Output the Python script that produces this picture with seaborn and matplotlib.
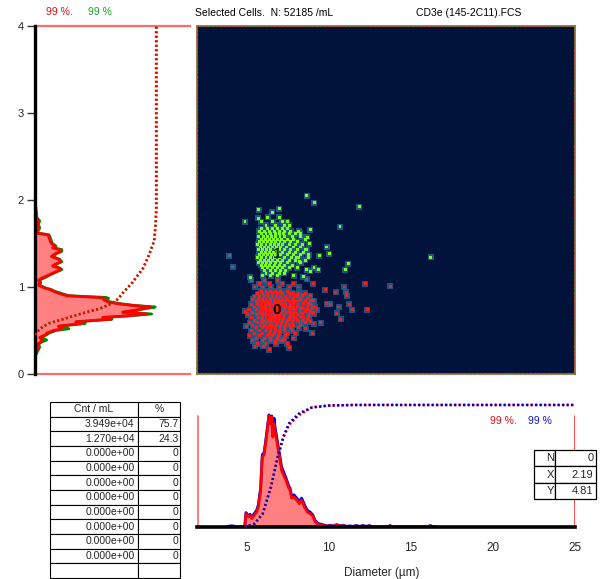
import numpy as np
import pandas as pd
import matplotlib
matplotlib.use("Agg")
import matplotlib.pyplot as plt
import seaborn as sns
from matplotlib.patches import Rectangle

sns.set_style("white")
plt.rcParams["font.family"] = ["Liberation Sans", "DejaVu Sans"]

# ---------------- data ----------------
# left (vertical) histogram : y position (0..4) vs count
LEFT_Y = [0.20, 0.24, 0.28, 0.31, 0.34, 0.37, 0.39, 0.42, 0.45, 0.47, 0.50, 0.52, 0.55, 0.58, 0.60,
          0.63, 0.65, 0.67, 0.69, 0.71, 0.73, 0.75, 0.77, 0.79, 0.81, 0.83, 0.85, 0.87, 0.88, 0.90,
          0.92, 0.93, 0.95, 0.97, 0.99, 1.02, 1.05, 1.08, 1.11, 1.14, 1.17, 1.20, 1.22, 1.24, 1.26,
          1.29, 1.32, 1.35, 1.38, 1.41, 1.43, 1.45, 1.47, 1.50, 1.53, 1.57, 1.60, 1.62, 1.65, 1.68,
          1.72, 1.76, 1.80, 1.83, 1.88, 1.94, 1.98, 2.05]
LEFT_RED = [0, 1, 2, 3, 2, 5, 6, 4, 9, 10, 16, 23, 20, 39, 35,
            64, 58, 80, 96, 75, 84, 92, 99, 82, 70, 62, 59, 60, 53, 27,
            22, 20, 16, 13, 8, 3, 4, 3, 7, 12, 17, 22, 20, 15, 17,
            22, 20, 14, 17, 22, 21, 15, 17, 14, 13, 12, 11, 1.5, 2, 3,
            2, 3, 1, 1, 0.5, 0.5, 0, 0]
LEFT_GREEN = [0, 1.5, 3, 4, 3, 6, 10, 5, 10, 12, 18, 29, 22, 43, 37,
              66, 60, 82, 100, 77, 86, 94, 103, 84, 72, 64, 61, 63, 61, 29,
              24, 22, 17, 14, 9, 4, 5, 4, 9, 13, 18, 23, 21, 16, 18,
              23, 21, 15, 18, 23, 23, 16, 18, 15, 14, 13, 12, 2, 3, 4,
              3, 4, 1.5, 1.5, 1, 0.5, 0, 0]
# left cumulative (percent)
LEFT_CUM_Y = [0.45, 0.52, 0.58, 0.63, 0.69, 0.75, 0.81, 0.86, 0.96, 1.05, 1.22, 1.38, 1.53, 1.72, 1.91, 4.0]
LEFT_CUM = [0, 4, 11, 23, 37, 53, 63, 68, 74, 80, 89, 94, 98, 99, 100, 100]

# bottom histogram : diameter (um) vs count
BOT_X = [3.8, 4.0, 4.1, 4.2, 4.4, 4.9, 4.98, 5.12, 5.23, 5.33, 5.43, 5.63, 5.73, 5.87, 5.97,
         6.08, 6.20, 6.30, 6.38, 6.46, 6.55, 6.61, 6.69, 6.77, 6.85, 6.95, 7.05, 7.15, 7.26,
         7.42, 7.56, 7.66, 7.76, 7.90, 8.07, 8.23, 8.37, 8.57, 8.72, 8.88, 9.04, 9.18, 9.39,
         9.69, 9.9, 10.1, 10.3, 10.5, 10.7, 10.9, 11.1, 11.3, 11.5, 11.7, 11.9, 12.1, 12.3,
         12.5, 12.7, 13.6, 13.75, 13.9, 16.0, 16.2, 16.4, 16.6]
BOT_RED = [0, 0, 0, 0, 0, 0, 12, 9, 10.5, 7.5, 9.6, 13.5, 18, 33, 63,
           65, 78, 90, 100, 93, 99, 81, 93, 84, 78, 69, 60, 51, 47,
           42, 36, 33, 26, 27, 24, 21, 24, 17, 13.5, 12, 10, 5, 2,
           1.5, 0.5, 1.2, 0.5, 1.8, 0.5, 1.2, 0.3, 0.6, 0.3, 1, 0.3, 1, 0.3,
           1, 0, 0, 1, 0, 0, 1, 0, 0]
BOT_BLUE = [0, 1, 1, 1, 0, 0, 13, 10, 11.5, 9, 11, 15, 20, 35, 65,
            67, 80, 92, 101, 95, 100, 84, 98, 88, 81, 72, 63, 54, 50,
            44, 38, 35, 28, 29, 26, 23, 26, 19, 15, 13.5, 11, 6, 3,
            2, 1, 1.6, 1, 2.2, 1, 1.6, 0.6, 1, 0.6, 1.3, 0.6, 1.3, 0.6,
            1.3, 0, 0, 1.3, 0, 0, 1.3, 0, 0]
# bottom cumulative (percent)
BOT_CUM_X = [4.9, 5.0, 5.5, 6.0, 6.25, 6.5, 6.9, 7.25, 7.6, 8.2, 9.0, 10.0, 11.6, 25.0]
BOT_CUM = [0, 0.5, 2.7, 11, 22, 33, 57, 74, 85, 93, 98, 99.5, 100, 100]

# scatter : population 0 (red)
RED_X = [5.9, 6.2, 6.5, 6.8, 7.1, 7.5,
         5.7, 6.0, 6.3, 6.6, 6.9, 7.2, 7.6, 7.9,
         5.5, 5.8, 6.1, 6.35, 6.6, 6.85, 7.1, 7.4, 7.7, 8.1,
         5.4, 5.75, 6.0, 6.2, 6.45, 6.7, 6.95, 7.2, 7.5, 7.8, 8.3,
         5.6, 5.9, 6.1, 6.3, 6.5, 6.7, 6.9, 7.1, 7.35, 7.6, 8.0, 8.6,
         5.3, 5.7, 5.95, 6.15, 6.35, 6.55, 6.75, 6.95, 7.15, 7.4, 7.7, 8.2, 8.9,
         5.5, 5.85, 6.05, 6.25, 6.45, 6.65, 6.85, 7.05, 7.25, 7.5, 7.9, 8.4, 9.2,
         5.2, 5.6, 5.9, 6.1, 6.3, 6.5, 6.7, 6.9, 7.1, 7.3, 7.6, 8.0, 8.7, 9.3,
         5.4, 5.8, 6.0, 6.2, 6.4, 6.6, 6.8, 7.0, 7.2, 7.45, 7.8, 8.3, 9.0,
         5.1, 5.6, 5.9, 6.1, 6.3, 6.5, 6.7, 6.9, 7.1, 7.35, 7.7, 8.1, 8.8,
         5.3, 5.75, 6.0, 6.2, 6.4, 6.6, 6.8, 7.0, 7.25, 7.6, 8.0, 8.5,
         5.5, 5.9, 6.1, 6.35, 6.55, 6.75, 6.95, 7.2, 7.5, 7.9, 8.4,
         5.2, 5.7, 6.0, 6.25, 6.5, 6.7, 6.9, 7.15, 7.45, 7.8, 8.6,
         5.4, 5.85, 6.1, 6.4, 6.6, 6.85, 7.1, 7.4, 7.9,
         5.6, 6.0, 6.3, 6.55, 6.8, 7.05, 7.35, 7.7, 8.2,
         5.3, 5.8, 6.2, 6.5, 6.75, 7.0, 7.3, 7.8,
         5.5, 6.0, 6.4, 6.7, 7.0, 7.5, 8.0,
         5.2, 5.8, 6.3, 6.6, 6.95, 7.4,
         5.6, 6.1, 6.5, 6.9, 7.3, 7.9,
         5.4, 6.0, 6.45, 7.1,
         5.7, 6.2, 6.8, 7.5,
         5.5, 6.0, 6.5, 7.0, 7.6, 8.2,
         5.8, 6.4, 7.2, 7.9,
         6.1, 6.9,
         7.8, 8.2, 8.6,
         8.0, 8.4, 8.9,
         7.9, 8.3, 8.7,
         7.8, 8.2, 8.9, 9.1,
         7.9, 8.5, 8.8,
         7.7, 8.1, 8.7, 9.0,
         7.8, 8.3, 8.5, 9.0,
         7.6, 8.0, 8.6, 8.9,
         7.9, 8.4, 9.1,
         7.8, 8.3, 8.8,
         7.7, 8.1, 8.7,
         8.2, 8.9,
         7.6, 8.3,
         6.45, 6.6, 6.75, 6.9, 7.05, 6.5, 6.65, 6.8, 6.95, 7.1, 6.4, 6.55, 6.7, 6.85, 7.0,
         12.23, 13.75, 10.95, 9.79, 10.44, 11.07, 11.11, 11.27, 11.46, 12.37, 10.62, 10.50, 10.74,
         9.53, 9.12, 9.0, 8.63, 7.62, 6.40, 6.04, 5.53, 6.79, 7.26, 9.89, 10.1, 9.08, 4.95, 5.0]
RED_Y = [0.95] * 6 + [0.92] * 8 + [0.89] * 10 + [0.86] * 11 + [0.83] * 12 + [0.80] * 13 \
    + [0.77] * 13 + [0.74] * 14 + [0.71] * 13 + [0.68] * 13 + [0.65] * 12 + [0.62] * 11 \
    + [0.59] * 11 + [0.56] * 9 + [0.53] * 9 + [0.50] * 8 + [0.47] * 7 + [0.44] * 6 \
    + [0.41] * 6 + [0.38] * 4 + [0.35] * 4 + [1.00] * 6 + [1.04] * 4 + [1.07] * 2 \
    + [0.93] * 3 + [0.90] * 3 + [0.87] * 3 + [0.84] * 4 + [0.81] * 3 + [0.78] * 4 \
    + [0.75] * 4 + [0.72] * 4 + [0.69] * 3 + [0.66] * 3 + [0.63] * 3 + [0.60] * 2 + [0.57] * 2 \
    + [0.785] * 5 + [0.725] * 5 + [0.665] * 5 \
    + [1.04, 1.01, 1.00, 0.97, 0.94, 0.94, 0.90, 0.80, 0.74, 0.74, 0.77, 0.70, 0.63,
       0.59, 0.58, 0.47, 0.52, 0.30, 0.28, 0.32, 0.32, 0.37, 0.39, 0.81, 0.80, 1.04, 0.72, 0.55]

# scatter : population 1 (green)
GREEN_X = [6.3, 7.0,
           5.9, 6.6, 7.2, 7.5,
           6.2, 6.8, 7.3, 7.6,
           5.9, 6.3, 6.6, 6.9, 7.2, 7.5,
           5.8, 6.1, 6.4, 6.7, 7.0, 7.3, 7.7, 8.2,
           5.9, 6.2, 6.5, 6.75, 7.0, 7.25, 7.6, 8.0,
           5.75, 6.05, 6.3, 6.55, 6.8, 7.05, 7.35, 7.8, 8.3,
           5.9, 6.15, 6.4, 6.65, 6.9, 7.15, 7.5, 7.9, 8.6,
           5.8, 6.05, 6.3, 6.55, 6.8, 7.05, 7.3, 7.7, 8.1,
           5.7, 5.95, 6.2, 6.45, 6.7, 6.95, 7.2, 7.6, 8.0, 8.4,
           5.85, 6.1, 6.35, 6.6, 6.85, 7.1, 7.45, 7.85, 8.3,
           5.75, 6.0, 6.25, 6.5, 6.75, 7.0, 7.3, 7.7, 8.1, 8.6,
           5.9, 6.15, 6.4, 6.65, 6.9, 7.2, 7.6, 8.0, 8.5,
           5.8, 6.05, 6.3, 6.55, 6.8, 7.1, 7.5, 7.9, 8.3, 8.8,
           5.7, 5.95, 6.2, 6.45, 6.7, 7.0, 7.35, 7.75, 8.2,
           5.85, 6.1, 6.35, 6.6, 6.9, 7.2, 7.6, 8.0, 8.6,
           5.75, 6.0, 6.25, 6.5, 6.8, 7.1, 7.5, 8.3,
           5.9, 6.15, 6.4, 6.7, 7.0, 7.3, 7.8,
           6.0, 6.3, 6.6, 6.9, 7.2, 7.6, 8.1,
           6.1, 6.45, 6.8, 7.1, 7.4,
           6.2, 6.6, 7.0, 7.3,
           6.0, 6.5, 6.9,
           8.68, 9.14, 11.88, 10.7, 9.89, 10.06, 11.21, 11.01, 16.22, 9.45, 9.39, 9.12, 8.88,
           8.68, 8.47, 7.90, 4.92, 5.77, 6.59, 7.01, 5.73, 5.23, 8.88, 8.72, 8.84, 8.68, 8.27,
           8.21, 8.03, 8.78]
GREEN_Y = [1.80] * 2 + [1.75] * 4 + [1.71] * 4 + [1.67] * 6 + [1.64] * 8 + [1.61] * 8 \
    + [1.58] * 9 + [1.55] * 9 + [1.52] * 9 + [1.49] * 10 + [1.46] * 9 + [1.43] * 10 \
    + [1.40] * 9 + [1.37] * 10 + [1.34] * 9 + [1.31] * 9 + [1.28] * 8 + [1.25] * 7 \
    + [1.22] * 7 + [1.19] * 5 + [1.16] * 4 + [1.13] * 3 \
    + [2.05, 1.97, 1.92, 1.69, 1.46, 1.38, 1.27, 1.20, 1.34, 1.36, 1.20, 1.22, 1.18,
       1.20, 1.12, 1.13, 1.75, 1.89, 1.86, 1.90, 1.79, 1.11, 1.66, 1.57, 1.50, 1.43, 1.62,
       1.29, 1.34, 1.34]

# scatter : ungated (dim)
DIM_X = [3.97, 4.17, 5.29, 8.68]
DIM_Y = [1.36, 1.23, 1.08, 1.09]

# population centre labels
POP_LABELS = ["0", "1"]
POP_LX = [6.85, 6.87]
POP_LY = [0.74, 1.38]

TABLE_HEADER = ["Cnt / mL", "%"]
TABLE_CNT = ["3.949e+04", "1.270e+04"] + ["0.000e+00"] * 8 + [""]
TABLE_PCT = ["75.7", "24.3"] + ["0"] * 8 + [""]

NXY_NAMES = ["N", "X", "Y"]
NXY_VALUES = ["0", "2.19", "4.81"]

LEFT_TICKS = [0, 1, 2, 3, 4]
BOT_TICKS = [5, 10, 15, 20, 25]

# ---------------- figure ----------------
W, H = 603, 579
fig = plt.figure(figsize=(W / 100, H / 100), dpi=100)


def box(x0, y0, x1, y1):
    return [x0 / W, 1 - y1 / H, (x1 - x0) / W, (y1 - y0) / H]


RED = "#ff0000"
FILL = "#ff8080"
DOT = (0, (0.8, 1.0))

# ---- left histogram ----
axL = fig.add_axes(box(35, 26, 190, 374))
axL.fill_betweenx(LEFT_Y, 0, LEFT_RED, color=FILL, lw=0, zorder=1)
sns.lineplot(x=LEFT_GREEN, y=LEFT_Y, sort=False, estimator=None, color="#008a00", lw=2, ax=axL, zorder=2)
sns.lineplot(x=LEFT_RED, y=LEFT_Y, sort=False, estimator=None, color=RED, lw=2, ax=axL, zorder=2.2)
axL.set_xlim(0, 132.8)
axL.set_ylim(0, 4)
axL.set_yticks(LEFT_TICKS)
axL.set_yticklabels([str(t) for t in LEFT_TICKS], fontsize=8)
axL.tick_params(axis="y", length=6, width=1, pad=2, left=True, color="#333333")
axL.set_xticks([])
axL.set_xlabel("")
axL.set_ylabel("")
for s in ["top", "bottom"]:
    axL.spines[s].set_color("#ff6a6a")
    axL.spines[s].set_linewidth(1.6)
axL.spines["right"].set_visible(False)
axL.spines["left"].set_color("black")
axL.spines["left"].set_linewidth(2.4)
axL.spines["left"].set_zorder(5)
axL.patch.set_alpha(0)
axL2 = axL.twiny()
axL2.set_xlim(0, 127.4)
sns.lineplot(x=LEFT_CUM, y=LEFT_CUM_Y, sort=False, estimator=None, color="#008a00", lw=1.8,
             linestyle=DOT, ax=axL2)
sns.lineplot(x=LEFT_CUM[:-3] + [99.2, 99.5, 99.5], y=LEFT_CUM_Y, sort=False, estimator=None,
             color=RED, lw=1.8, linestyle=DOT, ax=axL2)
axL2.set_ylim(0, 4)
axL2.axis("off")

# ---- scatter ----
axS = fig.add_axes(box(197, 26, 575, 374))
axS.set_facecolor("#01133a")
df = pd.concat([
    pd.DataFrame({"x": DIM_X, "y": DIM_Y, "pop": "dim"}),
    pd.DataFrame({"x": GREEN_X, "y": GREEN_Y, "pop": "1"}),
    pd.DataFrame({"x": RED_X, "y": RED_Y, "pop": "0"}),
])
# halo layer
sns.scatterplot(data=df, x="x", y="y", color="#245f8e", marker="s", s=15, linewidth=0,
                alpha=0.85, legend=False, ax=axS)
# bright core layer
sns.scatterplot(data=df, x="x", y="y", hue="pop",
                palette={"dim": "#3f6f92", "1": "#7cff10", "0": "#ff1a1a"},
                marker="s", s=4.5, linewidth=0, legend=False, ax=axS)
for lab, lx, ly in zip(POP_LABELS, POP_LX, POP_LY):
    axS.text(lx, ly, lab, ha="center", va="center", fontsize=11, fontweight="bold",
             color="black" if lab == "0" else "#0a2a0a", zorder=5)
axS.set_xlim(2, 25)
axS.set_ylim(0, 4)
axS.set_xticks([])
axS.set_yticks([])
axS.set_xlabel("")
axS.set_ylabel("")
for s in axS.spines.values():
    s.set_color("#e04040")
    s.set_linewidth(1.2)
axS.add_patch(Rectangle((0, 0), 1, 1, transform=axS.transAxes, fill=False,
                        edgecolor="#30b030", lw=1.2, linestyle=(0, (1, 1.5)), zorder=6, clip_on=False))

# ---- bottom histogram ----
axB = fig.add_axes(box(197, 398, 575, 527))
axB.fill_between(BOT_X, 0, BOT_RED, color=FILL, lw=0, zorder=1)
sns.lineplot(x=BOT_X, y=BOT_BLUE, sort=False, estimator=None, color="#0000ee", lw=2, ax=axB, zorder=2)
sns.lineplot(x=BOT_X, y=BOT_RED, sort=False, estimator=None, color=RED, lw=2, ax=axB, zorder=2.2)
axB.set_xlim(2, 25)
axB.set_ylim(0, 116.2)
axB.axvline(2, ymin=0, ymax=111 / 129, color="#ff8080", lw=2.2)
axB.axvline(25, ymin=0, ymax=111 / 129, color="#ff3030", lw=1.2)
axB.set_xticks(BOT_TICKS)
axB.set_xticklabels([str(t) for t in BOT_TICKS], fontsize=8.5)
axB.tick_params(axis="x", length=0, pad=11)
axB.set_yticks([])
axB.set_xlabel("")
axB.set_ylabel("")
for s in ["top", "left", "right"]:
    axB.spines[s].set_visible(False)
axB.spines["bottom"].set_color("black")
axB.spines["bottom"].set_linewidth(2.6)
axB.spines["bottom"].set_zorder(5)
axB.patch.set_alpha(0)
axB2 = axB.twinx()
axB2.set_ylim(0, 105.7)
sns.lineplot(x=BOT_CUM_X, y=[v * 0.985 if 0 < v < 95 else v for v in BOT_CUM], sort=False,
             estimator=None, color=RED, lw=1.8, linestyle=DOT, ax=axB2)
sns.lineplot(x=BOT_CUM_X, y=BOT_CUM, sort=False, estimator=None, color="#0000cc", lw=1.8,
             linestyle=DOT, ax=axB2)
axB2.set_xlim(2, 25)
axB2.axis("off")

fig.text(381.6 / W, 1 - 573 / H, "Diameter (\u00b5m)", ha="center", va="center", fontsize=8.5)

# ---- header texts ----
fig.text(46 / W, 1 - 12 / H, "99 %.", color="#e01010", fontsize=7.5, va="center")
fig.text(88 / W, 1 - 12 / H, "99 %", color="#20a020", fontsize=7.5, va="center")
fig.text(195 / W, 1 - 13 / H, "Selected Cells.  N: 52185 /mL", color="black", fontsize=7.5, va="center")
fig.text(416 / W, 1 - 13 / H, "CD3e (145-2C11).FCS", color="black", fontsize=7.5, va="center")
fig.text(490 / W, 1 - 421 / H, "99 %.", color="#e01010", fontsize=7.5, va="center")
fig.text(528 / W, 1 - 421 / H, "99 %", color="#1010d0", fontsize=7.5, va="center")

# ---- count table ----
axT = fig.add_axes(box(50, 402, 180, 578))
axT.axis("off")
rows = [TABLE_HEADER] + [[c, p] for c, p in zip(TABLE_CNT, TABLE_PCT)]
tab = axT.table(cellText=rows, cellLoc="right", colWidths=[88 / 130, 42 / 130], bbox=[0, 0, 1, 1])
tab.auto_set_font_size(False)
tab.set_fontsize(7.5)
for (r, c), cell in tab.get_celld().items():
    cell.set_linewidth(0.8)
    cell.PAD = 0.04
    if r == 0:
        cell._loc = "center"
        cell.get_text().set_horizontalalignment("center")

# ---- N / X / Y box ----
axN = fig.add_axes(box(534, 450, 596, 499))
axN.axis("off")
tab2 = axN.table(cellText=[[n, v] for n, v in zip(NXY_NAMES, NXY_VALUES)], cellLoc="right",
                 colWidths=[21 / 62, 41 / 62], bbox=[0, 0, 1, 1])
tab2.auto_set_font_size(False)
tab2.set_fontsize(8)
for (r, c), cell in tab2.get_celld().items():
    cell.set_linewidth(0.9)
    cell.PAD = 0.06
    cell.set_facecolor("white")

fig.savefig("out.png", dpi=100)
